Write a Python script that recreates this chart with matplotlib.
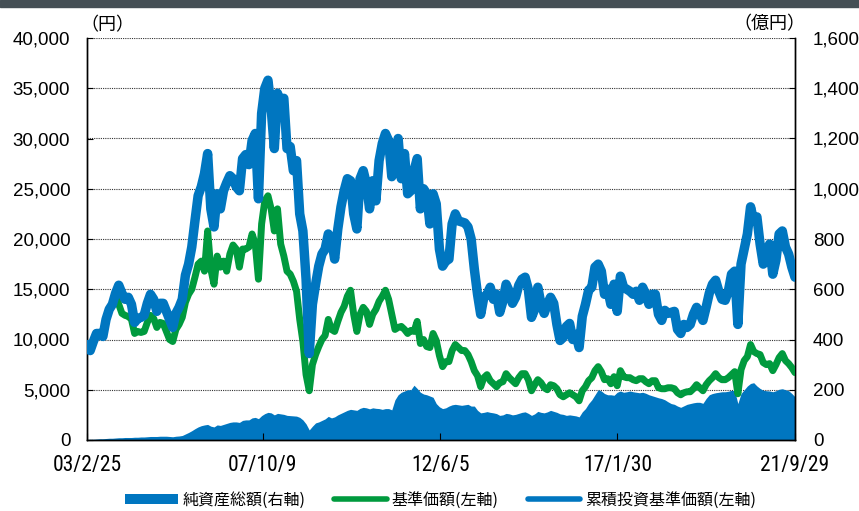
import numpy as np
import pandas as pd
import matplotlib
matplotlib.use("Agg")
import matplotlib.pyplot as plt
from matplotlib import font_manager
from matplotlib.lines import Line2D
from matplotlib.patches import Patch

# ---------------- data (monthly readings, Feb 2003 .. Sep 2021) ----------------
start_date = "2003-02-25"
end_date = "2021-09-29"
tick_dates = ["2003-02-25", "2007-10-09", "2012-06-05", "2017-01-30", "2021-09-29"]
tick_labels = ["03/2/25", "07/10/9", "12/6/5", "17/1/30", "21/9/29"]

# 累積投資基準価額 (left axis, 円)
cum_nav = [
    9500, 8900, 9800, 10600, 10600, 10300, 12000, 13000, 13500, 14600,
    15400, 14600, 14000, 14200, 13500, 11700, 12100, 12200, 12400, 13600,
    14500, 14000, 12800, 13600, 13600, 12800, 12000, 11200, 12600, 13200,
    14000, 16400, 17500, 19200, 21800, 24300, 25200, 26500, 28500, 23000,
    21200, 24500, 23000, 24800, 25600, 26300, 26000, 25200, 24800, 28000,
    28400, 27400, 29800, 30500, 24000, 32500, 35000, 35800, 33000, 29000,
    34500, 33500, 34000, 29000, 29200, 26800, 27800, 22500, 20800, 16000,
    8600, 13500, 15500, 17300, 18500, 19000, 20500, 20000, 18000, 21000,
    23200, 24800, 26000, 25800, 22500, 21000, 26000, 26800, 25500, 23000,
    25800, 23800, 27800, 29500, 30500, 29800, 26200, 27000, 30000, 26000,
    28500, 24500, 24800, 26800, 28000, 23000, 25000, 24500, 21500, 24500,
    23500, 19000, 17300, 17800, 18000, 21500, 22500, 21800, 21700, 21600,
    21200, 20000, 17000, 14500, 12500, 14200, 14500, 15200, 14000, 14500,
    12700, 13800, 15500, 14800, 13600, 14200, 15400, 16000, 16200, 15000,
    12200, 13000, 15200, 13500, 12600, 13500, 14200, 13600, 11500, 9900,
    10200, 11300, 11600, 10000, 10500, 9200, 12300, 13500, 14900, 15200,
    17200, 17500, 16800, 14500, 15000, 13500, 15500, 12800, 16300, 15200,
    15000, 14800, 14500, 14800, 13900, 15200, 14500, 13500, 14500, 14500,
    12500, 11900, 12900, 12600, 12700, 12800, 11000, 10600, 11500, 11200,
    11500, 12500, 13200, 12600, 11900, 13200, 14600, 15500, 15900, 14800,
    14000, 13900, 14800, 16500, 16800, 11500, 17500, 19000, 20500, 23200,
    21800, 22200, 19500, 17500, 18500, 19500, 16500, 17900, 20500, 20800,
    19200, 18500, 17200, 16200,
]

# 基準価額 (left axis, 円)
nav = [
    9500, 8900, 9800, 10600, 10600, 10300, 12000, 13000, 13500, 14600,
    13500, 12600, 12400, 12300, 12000, 10600, 10800, 10700, 10800, 11700,
    12400, 12100, 11200, 11700, 11600, 10800, 10000, 9800, 11000, 11500,
    12200, 13700, 14500, 15000, 16200, 17500, 17800, 16800, 20800, 17000,
    15500, 18300, 17200, 17800, 16800, 18500, 19400, 19000, 17200, 19000,
    19000, 19200, 20500, 19500, 16000, 21500, 23800, 24300, 23000, 20800,
    23000, 19500, 18300, 16800, 16500, 15800, 14800, 12000, 9800, 6500,
    4900, 7500, 8500, 9300, 10000, 10400, 12000, 11000, 10800, 11800,
    12700, 13300, 14300, 14900, 12500, 10800, 12500, 13200, 12800, 11500,
    12500, 13000, 13800, 14300, 14900, 14000, 12500, 11000, 11200, 11300,
    11000, 10600, 10900, 10800, 11800, 9600, 10000, 9300, 9200, 10600,
    9900, 8400, 7300, 7800, 7800, 8900, 9500, 9200, 8900, 8900,
    8500, 7800, 6900, 6400, 5300, 6200, 6500, 5900, 5600, 5300,
    5700, 5800, 6600, 6200, 5900, 5600, 6200, 6600, 6600, 6000,
    4900, 5500, 6000, 5700, 5200, 5000, 5500, 5400, 5100, 4500,
    4300, 4500, 4700, 4500, 4300, 3900, 4900, 5300, 5900, 6200,
    6900, 7300, 6800, 6000, 6100, 5600, 6300, 5400, 6900, 6300,
    6200, 6200, 6000, 5900, 6100, 6100, 5800, 5600, 5900, 5900,
    5200, 5100, 5100, 5200, 5200, 5100, 4700, 4500, 4700, 4800,
    4800, 5100, 5500, 5200, 4900, 5500, 5900, 6200, 6600, 6200,
    6000, 6000, 6200, 6500, 6800, 4600, 7000, 7900, 8300, 9500,
    8800, 8600, 8500, 7700, 7500, 7600, 6900, 7500, 8200, 8600,
    7900, 7600, 7200, 6700,
]

# 純資産総額 (right axis, 億円)
net_assets = [
    2, 3, 3, 4, 5, 5, 6, 7, 7, 8,
    9, 9, 10, 10, 10, 11, 11, 12, 12, 13,
    14, 14, 14, 15, 15, 15, 14, 13, 15, 16,
    18, 24, 30, 37, 45, 52, 57, 60, 62, 55,
    52, 60, 58, 62, 66, 70, 72, 72, 70, 78,
    80, 80, 88, 90, 85, 97, 105, 110, 108, 100,
    106, 104, 102, 98, 97, 96, 95, 90, 80, 64,
    40, 55, 68, 72, 78, 84, 94, 88, 92, 100,
    106, 112, 118, 122, 120, 118, 126, 130, 128, 124,
    128, 126, 125, 122, 125, 125, 120, 160, 180, 190,
    195, 200, 200, 218, 205, 190, 183, 180, 175, 170,
    145, 132, 125, 128, 135, 140, 142, 140, 138, 140,
    142, 135, 135, 118, 108, 110, 113, 110, 108, 105,
    98, 100, 106, 104, 100, 102, 106, 110, 112, 106,
    98, 104, 114, 110, 108, 112, 118, 114, 110, 104,
    102, 98, 100, 98, 96, 92, 112, 125, 145, 160,
    180, 200, 195, 185, 180, 180, 178, 190, 195, 190,
    192, 195, 192, 190, 188, 190, 186, 180, 176, 172,
    168, 165, 160, 152, 145, 142, 135, 130, 136, 142,
    145, 148, 150, 150, 146, 165, 180, 185, 188, 190,
    192, 192, 194, 198, 196, 145, 185, 200, 215, 225,
    228, 215, 205, 198, 196, 195, 192, 196, 202, 204,
    200, 196, 185, 172,
]

left_ticks = [0, 5000, 10000, 15000, 20000, 25000, 30000, 35000, 40000]
right_ticks = [0, 200, 400, 600, 800, 1000, 1200, 1400, 1600]

# ---------------- fonts ----------------
def has_font(name):
    try:
        font_manager.findfont(name, fallback_to_default=False)
        return True
    except Exception:
        return False

num_font = ["Liberation Sans", "DejaVu Sans"]
narrow_font = ["Liberation Sans"]
narrow_size = 14
for cand in ["Liberation Sans Narrow", "DejaVu Sans Condensed", "Roboto Condensed"]:
    if has_font(cand):
        narrow_font = [cand, "Liberation Sans"]
        narrow_size = 15.5
        break
jp_font = ["Noto Sans CJK JP", "DejaVu Sans"]
plt.rcParams["font.family"] = num_font

BLUE = "#0076c0"
GREEN = "#009a3e"

dates = pd.date_range(start_date, end_date, periods=len(cum_nav))

fig = plt.figure(figsize=(8.59, 5.11), dpi=100)
fig.patches.append(plt.Rectangle((0, 1 - 7 / 511), 1, 7 / 511, transform=fig.transFigure,
                                 color="#454f55", zorder=0))

ax1 = fig.add_axes([87 / 859, 1 - 440 / 511, 708 / 859, 402 / 511])
ax2 = ax1.twinx()
ax1.set_zorder(ax2.get_zorder() + 1)
ax1.patch.set_visible(False)

# area on right axis
ax2.fill_between(dates, net_assets, 0, color=BLUE, lw=0, zorder=2)
ax2.set_ylim(0, 1600)
ax2.set_yticks(right_ticks)
ax2.set_yticklabels([f"{v:,}" for v in right_ticks])
ax2.set_axisbelow(True)
ax2.grid(axis="y", color="#333333", linestyle=(0, (1, 1)), linewidth=0.8, zorder=0)

# lines on left axis
ax1.plot(dates, nav, color=GREEN, lw=5.0, solid_capstyle="round", solid_joinstyle="round", zorder=3)
ax1.plot(dates, cum_nav, color=BLUE, lw=6.8, solid_capstyle="round", solid_joinstyle="round", zorder=4)
ax1.set_ylim(0, 40000)
ax1.set_yticks(left_ticks)
ax1.set_yticklabels([f"{v:,}" for v in left_ticks])

xt = pd.to_datetime(tick_dates)
ax1.set_xlim(pd.Timestamp(start_date), pd.Timestamp(end_date))
ax1.set_xticks(xt)
ax1.set_xticklabels(tick_labels, fontfamily=narrow_font, fontsize=narrow_size)

for ax in (ax1, ax2):
    ax.spines["top"].set_visible(False)
    for s in ("left", "right", "bottom"):
        ax.spines[s].set_color("black")
        ax.spines[s].set_linewidth(1.0)
ax1.tick_params(axis="y", direction="in", length=4, width=0.8, labelsize=13.5, pad=12)
ax2.tick_params(axis="y", direction="in", length=4, width=0.8, labelsize=13.5, pad=13)
ax1.tick_params(axis="x", direction="in", length=5, width=0.8, pad=11)

fig.text(80 / 859, 1 - 25 / 511, "（円）", fontfamily=jp_font, fontsize=13, ha="left", va="center")
fig.text(805 / 859, 1 - 24 / 511, "（億円）", fontfamily=jp_font, fontsize=13, ha="right", va="center")

handles = [
    Patch(facecolor=BLUE, edgecolor="none"),
    Line2D([0], [0], color=GREEN, lw=4, solid_capstyle="round"),
    Line2D([0], [0], color=BLUE, lw=4, solid_capstyle="round"),
]
labels = ["純資産総額(右軸)", "基準価額(左軸)", "累積投資基準価額(左軸)"]
leg = fig.legend(handles, labels, loc="center", bbox_to_anchor=(0.513, 1 - 500 / 511), ncol=3,
                 frameon=False, prop={"family": jp_font, "size": 11.5}, handlelength=3.3,
                 handleheight=0.55, handletextpad=0.3, columnspacing=1.8)

fig.savefig("out.png", dpi=100)
